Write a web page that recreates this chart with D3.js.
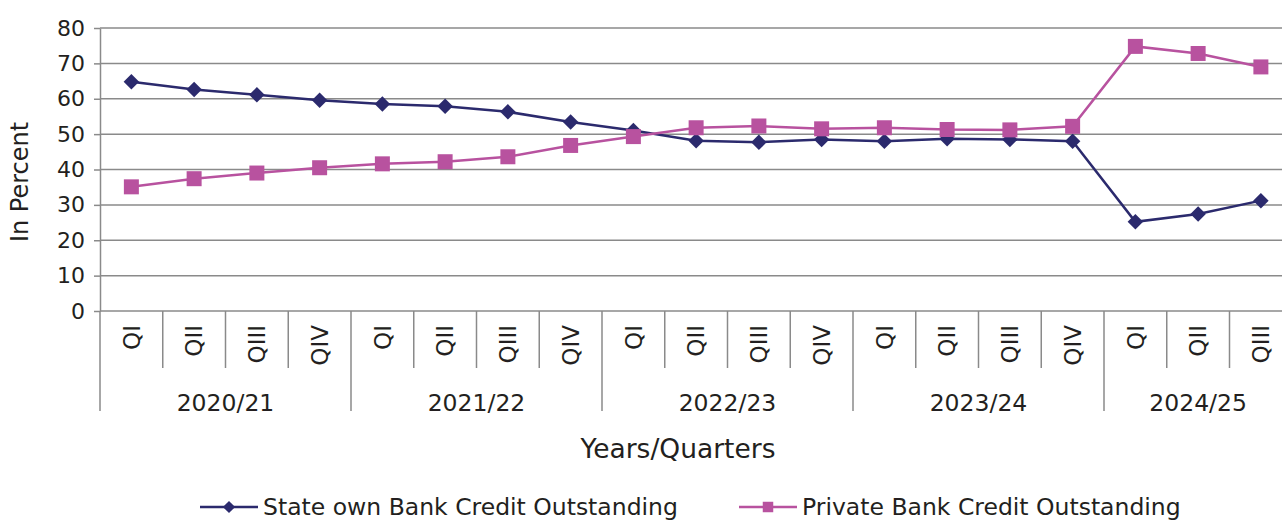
<!DOCTYPE html>
<html>
<head>
<meta charset="utf-8">
<script src="https://cdn.jsdelivr.net/npm/d3@7"></script>
<style>
    body { margin: 0; background: #fff; }
    svg { display: block; font-family: "DejaVu Sans", sans-serif; }
    text { fill: #231f20; }
</style>
</head>
<body>
<div id="chart"></div>
<script>
    const years = ["2020/21", "2021/22", "2022/23", "2023/24", "2024/25"];
    const quarters = ["QI", "QII", "QIII", "QIV", "QI", "QII", "QIII", "QIV", "QI", "QII", "QIII", "QIV",
                      "QI", "QII", "QIII", "QIV", "QI", "QII", "QIII"];
    const stateOwn = [64.8, 62.6, 61.1, 59.6, 58.5, 57.9, 56.3, 53.4, 51.0, 48.1, 47.7, 48.5, 48.0, 48.7, 48.5, 48.0, 25.2, 27.4, 31.2];
    const privateBank = [35.1, 37.4, 39.0, 40.5, 41.6, 42.2, 43.6, 46.8, 49.3, 51.8, 52.3, 51.5, 51.8, 51.3, 51.2, 52.2, 74.8, 72.8, 69.0];
    const yTicks = [0, 10, 20, 30, 40, 50, 60, 70, 80];

    const navy = "#2b2a6d";
    const pink = "#b8529f";
    const gridColor = "#8a8a8a";

    const width = 1282, height = 520;
    const plotLeft = 100, plotTop = 28, plotBottom = 311;
    const bandW = 62.75;

    const svg = d3.select("#chart").append("svg")
        .attr("width", width)
        .attr("height", height);

    const keys = quarters.map((q, i) => i);

    const x = d3.scaleBand()
        .domain(keys)
        .range([plotLeft, plotLeft + bandW * keys.length])
        .padding(0);

    const y = d3.scaleLinear()
        .domain([0, 80])
        .range([plotBottom, plotTop]);

    // y axis with outward ticks
    const yAxis = svg.append("g")
        .attr("transform", `translate(${plotLeft},0)`)
        .call(d3.axisLeft(y).tickValues(yTicks).tickSize(6).tickSizeOuter(0).tickPadding(9));
    yAxis.select(".domain").attr("stroke", gridColor).attr("stroke-width", 1.5);
    yAxis.selectAll(".tick line").attr("stroke", gridColor).attr("stroke-width", 1.5);
    yAxis.selectAll(".tick text")
        .style("font-family", "DejaVu Sans, sans-serif")
        .style("font-size", "22px")
        .style("fill", "#231f20");

    // horizontal gridlines
    svg.append("g")
        .selectAll("line")
        .data(yTicks)
        .join("line")
        .attr("x1", plotLeft)
        .attr("x2", width)
        .attr("y1", d => y(d))
        .attr("y2", d => y(d))
        .attr("stroke", gridColor)
        .attr("stroke-width", 1.5);

    // quarter / year separators
    svg.append("g")
        .selectAll("line")
        .data(keys)
        .join("line")
        .attr("x1", d => x(d))
        .attr("x2", d => x(d))
        .attr("y1", plotBottom)
        .attr("y2", d => d % 4 === 0 ? 411 : 368)
        .attr("stroke", gridColor)
        .attr("stroke-width", 1.5);

    // quarter labels
    svg.append("g")
        .selectAll("text")
        .data(keys)
        .join("text")
        .attr("transform", d => `translate(${x(d) + x.bandwidth() / 2},325) rotate(-90)`)
        .attr("text-anchor", "end")
        .attr("dy", "0.36em")
        .style("font-size", "23px")
        .text(d => quarters[d]);

    // year labels
    svg.append("g")
        .selectAll("text")
        .data(years)
        .join("text")
        .attr("x", (d, i) => {
            const first = i * 4;
            const last = Math.min(first + 3, keys.length - 1);
            return (x(first) + x(last) + x.bandwidth()) / 2;
        })
        .attr("y", 403)
        .attr("dy", "0.36em")
        .attr("text-anchor", "middle")
        .style("font-size", "23.5px")
        .text(d => d);

    // axis titles
    svg.append("text")
        .attr("x", 678)
        .attr("y", 448)
        .attr("dy", "0.36em")
        .attr("text-anchor", "middle")
        .style("font-size", "26.5px")
        .text("Years/Quarters");

    svg.append("text")
        .attr("transform", "translate(19,182) rotate(-90)")
        .attr("dy", "0.36em")
        .attr("text-anchor", "middle")
        .style("font-size", "24px")
        .text("In Percent");

    // series
    const cx = i => x(i) + x.bandwidth() / 2;
    const line = d3.line()
        .x((d, i) => cx(i))
        .y(d => y(d));

    const series = [
        { name: "State own Bank Credit Outstanding", values: stateOwn, color: navy, shape: d3.symbolSquare, rotate: 45, size: 120, legendSize: 75 },
        { name: "Private Bank Credit Outstanding", values: privateBank, color: pink, shape: d3.symbolSquare, rotate: 0, size: 225, legendSize: 110 }
    ];

    series.forEach(s => {
        svg.append("path")
            .datum(s.values)
            .attr("d", line)
            .attr("fill", "none")
            .attr("stroke", s.color)
            .attr("stroke-width", 2.5);

        svg.append("g")
            .selectAll("path")
            .data(s.values)
            .join("path")
            .attr("transform", (d, i) => `translate(${cx(i)},${y(d)}) rotate(${s.rotate})`)
            .attr("d", d3.symbol().type(s.shape).size(s.size))
            .attr("fill", s.color);
    });

    // legend
    const legendX = [200, 739];
    const legend = svg.append("g")
        .selectAll("g")
        .data(series)
        .join("g")
        .attr("transform", (d, i) => `translate(${legendX[i]},507)`);

    legend.append("line")
        .attr("x1", 0)
        .attr("x2", 58)
        .attr("stroke", d => d.color)
        .attr("stroke-width", 2.5);

    legend.append("path")
        .attr("transform", d => `translate(29,0) rotate(${d.rotate})`)
        .attr("d", d => d3.symbol().type(d.shape).size(d.legendSize)())
        .attr("fill", d => d.color);

    legend.append("text")
        .attr("x", 63)
        .attr("dy", "0.34em")
        .style("font-size", "23.5px")
        .text(d => d.name);
</script>
</body>
</html>
